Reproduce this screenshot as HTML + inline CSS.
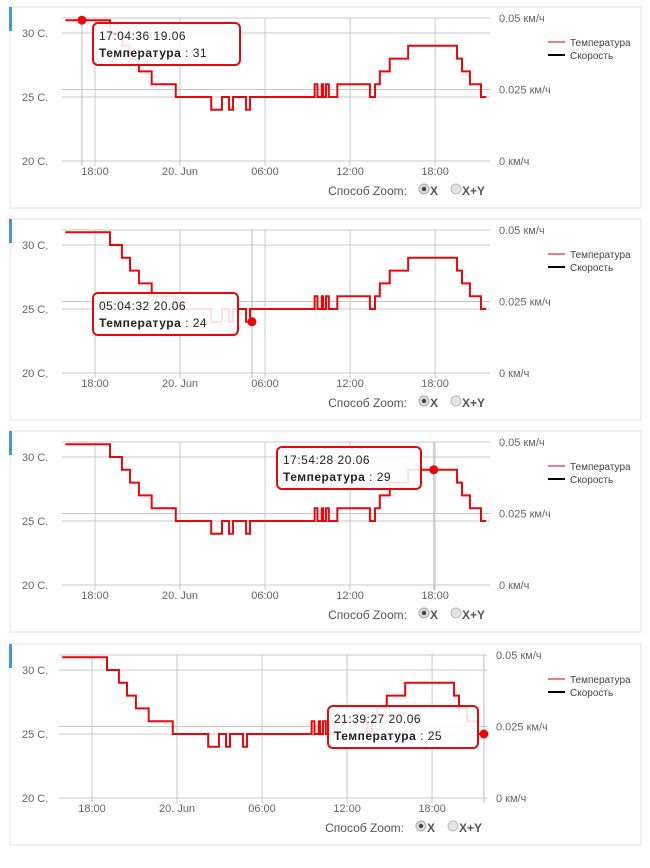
<!DOCTYPE html>
<html><head><meta charset="utf-8"><style>
body{margin:0;background:#fff;width:650px;height:863px;overflow:hidden;font-family:"Liberation Sans","DejaVu Sans",sans-serif}
svg text{font-family:"Liberation Sans","DejaVu Sans",sans-serif}
</style></head><body>
<svg id="c" width="650" height="863" xmlns="http://www.w3.org/2000/svg"></svg>
<script>
// hours since 00:00 19.06
const stepTimes=[15.9,19.06,19.9,20.47,21.1,22.0,23.7,26.2,26.96,27.46,27.74,28.66,28.94,33.5,33.7,34.0,34.1,34.3,34.5,35.1,37.4,37.76,38.1,38.8,40.1,43.55,43.9,44.46,45.24,45.6];
const stepTemps=[31,30,29,28,27,26,25,24,25,24,25,24,25,26,25,26,25,26,25,26,25,26,27,28,29,28,27,26,25,25];
const tempTicks=[20,25,30];
const tempTickLabels=["20 C.","25 C.","30 C."];
const speedTicks=[0,0.025,0.05];
const speedTickLabels=["0 км/ч","0.025 км/ч","0.05 км/ч"];
const timeTicks=[18,24,30,36,42];
const timeTickLabels=["18:00","20. Jun","06:00","12:00","18:00"];
const tipTimes=[17.077,29.076,41.908,45.658];
const tipLabels=["17:04:36 19.06","05:04:32 20.06","17:54:28 20.06","21:39:27 20.06"];
const tipValues=[31,24,29,25];

const svg=document.getElementById('c');
const NS='http://www.w3.org/2000/svg';
function mk(tag,attrs,parent){const e=document.createElementNS(NS,tag);for(const k in attrs)e.setAttribute(k,attrs[k]);(parent||svg).appendChild(e);return e;}
const panelDY=[0,212,424,637], panelDX=[0,0,0,-3];
const tipBox=[[93,23,147],[93,293,145],[277,447,144],[328,706,150]];
for(let p=0;p<4;p++){
  const dy=panelDY[p],dx=panelDX[p];
  const xT=h=>95+dx+(h-18)*14.17;
  const yT=v=>97+dy-(v-25)*12.8;
  const yS=s=>161+dy-(s/0.05)*143;
  const g=mk('g',{});
  
  
  const fr=mk('rect',{x:10,y:7+dy,width:631,height:201,fill:'#fff',stroke:'#e2e2e2'},g);
  
  const bb=mk('rect',{x:9,y:7+dy,width:3,height:24,fill:'#3d9bd1'},g);
  
  const x0=62+dx,x1=490+dx;
  // horizontal grids
  tempTicks.forEach((v,i)=>{
    mk('line',{x1:x0,x2:x1,y1:yT(v),y2:yT(v),stroke:'#c8c8c8'},g);
    const t=mk('text',{x:22,y:yT(v)+4,'font-size':11,fill:'#666'},g);t.textContent=tempTickLabels[i];
    
  });
  speedTicks.forEach((s,i)=>{
    if(s>0)mk('line',{x1:x0,x2:x1,y1:yS(s),y2:yS(s),stroke:'#c8c8c8'},g);
    const t=mk('text',{x:499+dx,y:yS(s)+4,'font-size':11,fill:'#666'},g);t.textContent=speedTickLabels[i];
    
  });
  timeTicks.forEach((h,i)=>{
    mk('line',{x1:xT(h),x2:xT(h),y1:18+dy,y2:166+dy,stroke:'#c8c8c8'},g);
    const t=mk('text',{x:xT(h),y:175+dy,'font-size':11,fill:'#666','text-anchor':'middle'},g);t.textContent=timeTickLabels[i];
    
  });
  // crosshair
  mk('line',{x1:xT(tipTimes[p]),x2:xT(tipTimes[p]),y1:18+dy,y2:166+dy,stroke:'#bbb'},g);
  // series
  let d='';
  for(let i=0;i<stepTimes.length;i++){
    const x=xT(stepTimes[i]),y=yT(stepTemps[i]);
    if(i===0)d+='M'+x+' '+y;else d+='L'+x+' '+yT(stepTemps[i-1])+'L'+x+' '+y;
  }
  const ln=mk('path',{d:d,fill:'none',stroke:'#e8080c','stroke-width':2},g);
  
  const dot=mk('circle',{cx:xT(tipTimes[p]),cy:yT(tipValues[p]),r:4.5,fill:'#e8080c'},g);
  
  // legend
  mk('line',{x1:548,x2:565,y1:42+dy,y2:42+dy,stroke:'#e88080','stroke-width':2},g);
  const l1=mk('text',{x:570,y:46+dy,'font-size':10,fill:'#444'},g);l1.textContent='Температура';
  
  mk('line',{x1:548,x2:565,y1:55+dy,y2:55+dy,stroke:'#000','stroke-width':2},g);
  const l2=mk('text',{x:570,y:59+dy,'font-size':10,fill:'#444'},g);l2.textContent='Скорость';
  
  // zoom control
  const zt=mk('text',{x:407+dx,y:195+dy,'font-size':12,fill:'#555','text-anchor':'end'},g);zt.textContent='Способ Zoom:';
  
  const r1=mk('circle',{cx:424+dx,cy:189+dy,r:5,fill:'#ddd',stroke:'#aaa'},g);
  
  mk('circle',{cx:424+dx,cy:189+dy,r:2.2,fill:'#444'},g);
  const x1t=mk('text',{x:430+dx,y:195+dy,'font-size':12,'font-weight':'bold',fill:'#555'},g);x1t.textContent='X';
  const r2=mk('circle',{cx:456+dx,cy:189+dy,r:5,fill:'#e4e4e4',stroke:'#bbb'},g);
  
  const x2t=mk('text',{x:462+dx,y:195+dy,'font-size':12,'font-weight':'bold',fill:'#555'},g);x2t.textContent='X+Y';
  // tooltip
  const tb=tipBox[p];
  const tr=mk('rect',{x:tb[0],y:tb[1],width:tb[2],height:42,rx:5,fill:'rgba(255,255,255,0.88)',stroke:'#e8080c','stroke-width':2},g);
  
  const t1=mk('text',{x:tb[0]+6,y:tb[1]+17,'font-size':12,fill:'#222','letter-spacing':'0.5'},g);t1.textContent=tipLabels[p];
  const t2=mk('text',{x:tb[0]+6,y:tb[1]+34,'font-size':12,fill:'#222','letter-spacing':'0.5'},g);
  const b=document.createElementNS(NS,'tspan');b.setAttribute('font-weight','bold');b.textContent='Температура';t2.appendChild(b);
  t2.appendChild(document.createTextNode(' : '+tipValues[p]));
}
</script>
</body></html>
